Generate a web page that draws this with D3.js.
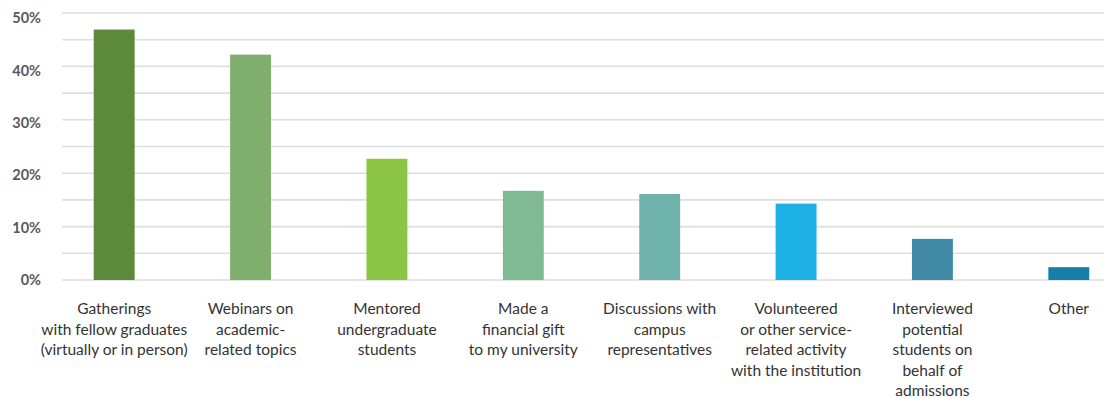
<!DOCTYPE html>
<html>
<head>
<meta charset="utf-8">
<script src="https://cdn.jsdelivr.net/npm/d3@7"></script>
<style>
  html, body { margin: 0; padding: 0; background: #fff; }
  svg { display: block; }
  text { font-family: Lato, "Open Sans", sans-serif; }
</style>
</head>
<body>
<svg id="chart" width="1104" height="398"></svg>
<script>
// Share of graduates who took part in each activity
const categories = [
  ["Gatherings", "with fellow graduates", "(virtually or in person)"],
  ["Webinars on", "academic-", "related topics"],
  ["Mentored", "undergraduate", "students"],
  ["Made a", "financial gift", "to my university"],
  ["Discussions with", "campus", "representatives"],
  ["Volunteered", "or other service-", "related activity", "with the institution"],
  ["Interviewed", "potential", "students on", "behalf of", "admissions"],
  ["Other"]
];
const values = [46.9, 42.2, 22.7, 16.7, 16.1, 14.3, 7.7, 2.4];
const barColors = ["#5d893b", "#7fae6d", "#8cc443", "#80ba93", "#6eb2ab", "#1cb0e5", "#418ba9", "#167ea8"];
const yTicks = [0, 10, 20, 30, 40, 50];
const gridTicks = [0, 5, 10, 15, 20, 25, 30, 35, 40, 45, 50];

const svg = d3.select("#chart");
const W = 1104;

const x = d3.scaleBand()
  .domain(d3.range(categories.length))
  .range([46, 1137])
  .paddingInner(0.7)
  .paddingOuter(0.35);

const y = d3.scaleLinear().domain([0, 50]).range([280, 13]);
// tick labels sit on a slightly tighter scale than the gridlines
const yLabel = d3.scaleLinear().domain([0, 50]).range([280, 18]);

// horizontal gridlines every 5%
svg.append("g")
  .selectAll("line")
  .data(gridTicks)
  .join("line")
  .attr("x1", 62)
  .attr("x2", W)
  .attr("y1", d => y(d))
  .attr("y2", d => y(d))
  .attr("stroke", "#dedede")
  .attr("stroke-width", 1.6);

// y-axis labels
const yAxis = d3.axisLeft(yLabel)
  .tickValues(yTicks)
  .tickFormat(d => d + "%")
  .tickSize(0)
  .tickPadding(0);

svg.append("g")
  .attr("transform", "translate(41,0)")
  .call(yAxis)
  .call(g => g.select(".domain").remove())
  .call(g => g.selectAll("text")
    .attr("font-family", "Lato, sans-serif")
    .attr("font-size", 14.5)
    .attr("font-weight", 700)
    .attr("fill", "#595959"));

// bars
svg.append("g")
  .selectAll("rect")
  .data(values)
  .join("rect")
  .attr("x", (d, i) => x(i))
  .attr("y", d => y(d))
  .attr("width", x.bandwidth())
  .attr("height", d => y(0) - y(d))
  .attr("fill", (d, i) => barColors[i]);

// category labels under the bars
const labels = svg.append("g")
  .selectAll("text")
  .data(categories)
  .join("text")
  .attr("x", (d, i) => x(i) + x.bandwidth() / 2)
  .attr("y", 314)
  .attr("text-anchor", "middle")
  .attr("font-size", 15.5)
  .attr("fill", "#333333");

labels.selectAll("tspan")
  .data(d => d)
  .join("tspan")
  .attr("x", function() { return d3.select(this.parentNode).attr("x"); })
  .attr("dy", (d, i) => i === 0 ? 0 : 20.5)
  .text(d => d);
</script>
</body>
</html>
